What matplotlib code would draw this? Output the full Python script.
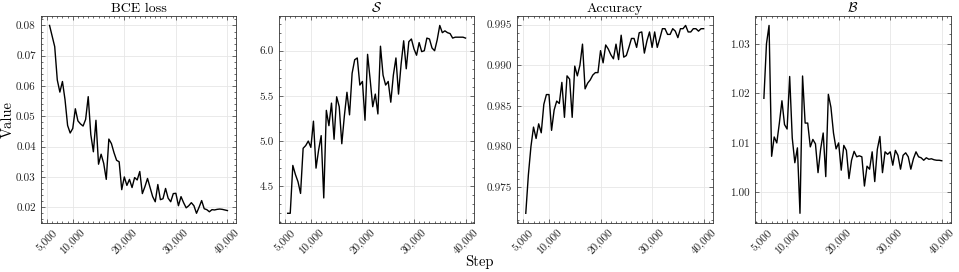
import matplotlib
matplotlib.use("Agg")
import matplotlib.pyplot as plt
from matplotlib.ticker import FuncFormatter, AutoMinorLocator

plt.rcParams["font.family"] = ["cmr10", "DejaVu Serif"]
plt.rcParams["mathtext.fontset"] = "cm"
plt.rcParams["axes.formatter.use_mathtext"] = True
plt.rcParams["axes.unicode_minus"] = False

# training steps (every 500)
steps = [
    5500, 6000, 6500, 7000, 7500, 8000, 8500, 9000, 9500, 10000,
    10500, 11000, 11500, 12000, 12500, 13000, 13500, 14000, 14500, 15000,
    15500, 16000, 16500, 17000, 17500, 18000, 18500, 19000, 19500, 20000,
    20500, 21000, 21500, 22000, 22500, 23000, 23500, 24000, 24500, 25000,
    25500, 26000, 26500, 27000, 27500, 28000, 28500, 29000, 29500, 30000,
    30500, 31000, 31500, 32000, 32500, 33000, 33500, 34000, 34500, 35000,
    35500, 36000, 36500, 37000, 37500, 38000, 38500, 39000, 39500, 40000,
]

bce_loss = [
    0.0800, 0.0765, 0.0730, 0.0620, 0.0580, 0.0615, 0.0555, 0.0470, 0.0445, 0.0460,
    0.0525, 0.0485, 0.0475, 0.0468, 0.0490, 0.0565, 0.0440, 0.0383, 0.0487, 0.0342,
    0.0375, 0.0345, 0.0292, 0.0425, 0.0410, 0.0380, 0.0355, 0.0350, 0.0258, 0.0300,
    0.0272, 0.0292, 0.0265, 0.0298, 0.0290, 0.0318, 0.0245, 0.0268, 0.0295, 0.0265,
    0.0235, 0.0218, 0.0275, 0.0225, 0.0228, 0.0262, 0.0230, 0.0218, 0.0245, 0.0246,
    0.0205, 0.0235, 0.0215, 0.0198, 0.0205, 0.0215, 0.0205, 0.0180, 0.0200, 0.0222,
    0.0195, 0.0192, 0.0185, 0.0192, 0.0191, 0.0193, 0.0194, 0.0193, 0.0191, 0.0189,
]

s_metric = [
    4.20, 4.20, 4.73, 4.63, 4.55, 4.42, 4.92, 4.95, 5.00, 4.93,
    5.22, 4.70, 4.90, 5.06, 4.37, 5.34, 5.17, 5.42, 5.02, 5.49,
    5.38, 4.97, 5.28, 5.54, 5.29, 5.75, 5.90, 5.92, 5.62, 5.66,
    5.23, 5.96, 5.68, 5.38, 5.52, 5.30, 6.05, 5.73, 5.62, 5.66,
    5.43, 5.73, 5.92, 5.52, 5.85, 6.11, 5.80, 6.10, 6.13, 6.02,
    5.95, 6.09, 5.99, 6.00, 6.14, 6.13, 6.03, 6.00, 6.12, 6.28,
    6.20, 6.22, 6.20, 6.19, 6.14, 6.15, 6.15, 6.15, 6.15, 6.14,
]

accuracy = [
    0.9718, 0.9765, 0.9800, 0.9824, 0.9810, 0.9828, 0.9817, 0.9852, 0.9864, 0.9864,
    0.9820, 0.9845, 0.9856, 0.9853, 0.9879, 0.9836, 0.9887, 0.9883, 0.9836, 0.9899,
    0.9887, 0.9900, 0.9926, 0.9871, 0.9878, 0.9882, 0.9888, 0.9891, 0.9891, 0.9918,
    0.9903, 0.9925, 0.9920, 0.9913, 0.9908, 0.9926, 0.9907, 0.9937, 0.9910, 0.9912,
    0.9922, 0.9933, 0.9933, 0.9922, 0.9940, 0.9941, 0.9915, 0.9930, 0.9941, 0.9922,
    0.9941, 0.9922, 0.9933, 0.9945, 0.9945, 0.9938, 0.9938, 0.9945, 0.9942, 0.9934,
    0.9945, 0.9945, 0.9949, 0.9941, 0.9941, 0.9945, 0.9945, 0.9942, 0.9945, 0.9945,
]

b_metric = [
    1.0190, 1.0300, 1.0337, 1.0073, 1.0112, 1.0100, 1.0140, 1.0185, 1.0137, 1.0128,
    1.0234, 1.0110, 1.0060, 1.0090, 0.9958, 1.0235, 1.0140, 1.0140, 1.0092, 1.0107,
    1.0098, 1.0040, 1.0087, 1.0120, 1.0032, 1.0198, 1.0172, 1.0120, 1.0088, 1.0100,
    1.0045, 1.0095, 1.0085, 1.0028, 1.0065, 1.0083, 1.0072, 1.0074, 1.0072, 1.0013,
    1.0053, 1.0047, 1.0082, 1.0022, 1.0087, 1.0113, 1.0040, 1.0082, 1.0077, 1.0082,
    1.0055, 1.0085, 1.0075, 1.0047, 1.0075, 1.0080, 1.0072, 1.0047, 1.0068, 1.0082,
    1.0072, 1.0070, 1.0065, 1.0070, 1.0067, 1.0068, 1.0066, 1.0065, 1.0065, 1.0064,
]

titles = ["BCE loss", r"$\mathcal{S}$", "Accuracy", r"$\mathcal{B}$"]
series = [bce_loss, s_metric, accuracy, b_metric]
ytick_sets = [
    [0.02, 0.03, 0.04, 0.05, 0.06, 0.07, 0.08],
    [4.5, 5.0, 5.5, 6.0],
    [0.975, 0.980, 0.985, 0.990, 0.995],
    [1.00, 1.01, 1.02, 1.03],
]
ytick_fmt = ["{:.2f}", "{:.1f}", "{:.3f}", "{:.2f}"]
xticks = [5000, 10000, 20000, 30000, 40000]

fig, axes = plt.subplots(1, 4, figsize=(9.59, 2.72), dpi=100)
fig.subplots_adjust(left=0.0424, right=0.9913, bottom=0.1813, top=0.941, wspace=0.217)

for ax, ys, title, yt, fmt in zip(axes, series, titles, ytick_sets, ytick_fmt):
    ax.plot(steps, ys, color="black", lw=1.0)
    ax.set_title(title, fontsize=10, pad=3)
    ax.set_xticks(xticks)
    ax.xaxis.set_major_formatter(FuncFormatter(lambda v, p: "{:,}".format(int(v))))
    ax.set_yticks(yt)
    ax.yaxis.set_major_formatter(FuncFormatter(lambda v, p, f=fmt: f.format(v)))
    ax.xaxis.set_minor_locator(AutoMinorLocator(5))
    ax.yaxis.set_minor_locator(AutoMinorLocator(5))
    ax.tick_params(axis="x", labelrotation=45)
    ax.tick_params(which="both", direction="in", top=True, right=True,
                   labelsize=8, width=0.5, color="#333333", labelcolor="#222222")
    ax.tick_params(which="major", length=3)
    ax.tick_params(which="minor", length=1.5)
    ax.grid(True, color="#e6e6e6", lw=0.6)
    ax.set_axisbelow(True)
    for sp in ax.spines.values():
        sp.set_linewidth(0.6)
        sp.set_color("#333333")

axes[0].set_ylabel("Value", fontsize=10.5, labelpad=1)
fig.text(0.5, 1 - 262 / 272, "Step", ha="center", va="center", fontsize=10.5)

fig.savefig("out.png", dpi=100)
